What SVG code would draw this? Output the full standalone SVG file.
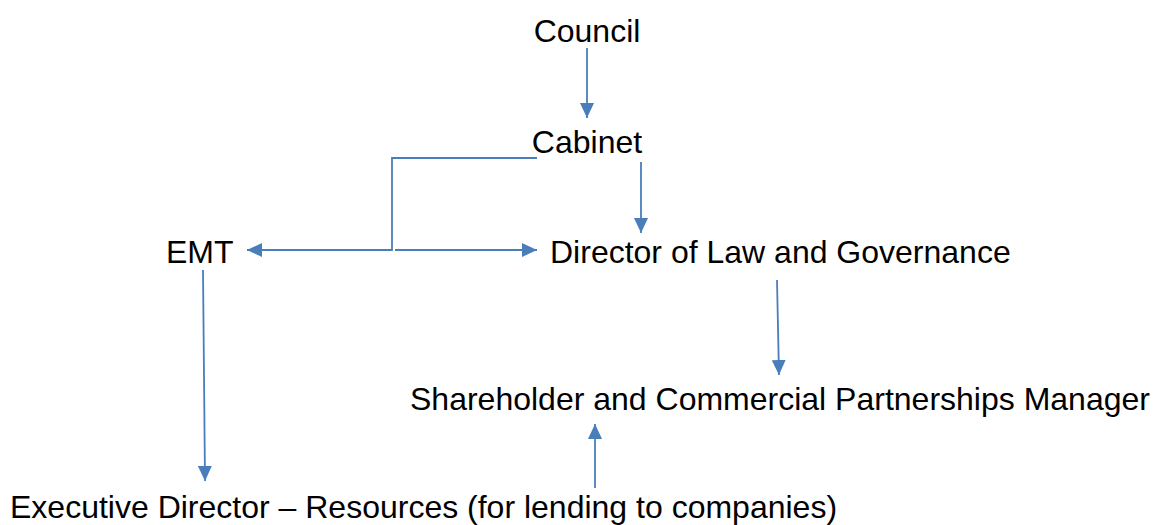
<svg xmlns="http://www.w3.org/2000/svg" width="1153" height="525" viewBox="0 0 1153 525">
<style>
.t{font-family:"Liberation Sans",Arial,sans-serif;font-size:32px;fill:#000}
.c{fill:none;stroke:#4a7ebb;stroke-width:1.8}
</style>
<defs>
<marker id="ah" markerUnits="userSpaceOnUse" markerWidth="16" markerHeight="14" refX="15" refY="7" orient="auto">
<path d="M0,0 L15,7 L0,14 Z" fill="#4a7ebb"/>
</marker>
</defs>
<rect width="1153" height="525" fill="#fff"/>
<g id="council"><text class="t" x="587" y="42" text-anchor="middle">Council</text></g>
<g id="cabinet"><text class="t" x="587" y="153" text-anchor="middle">Cabinet</text></g>
<g id="emt"><text class="t" x="166" y="263">EMT</text></g>
<g id="director"><text class="t" x="550" y="263">Director of Law and Governance</text></g>
<g id="shareholder"><text class="t" x="410" y="410">Shareholder and Commercial Partnerships Manager</text></g>
<g id="executive"><text class="t" x="10" y="518">Executive Director – Resources (for lending to companies)</text></g>
<g id="connectors">
<line class="c" x1="587" y1="48" x2="587" y2="118" marker-end="url(#ah)"/>
<polyline class="c" points="537,158 392,158 392,250 247,250" marker-end="url(#ah)"/>
<line class="c" x1="395" y1="250" x2="537" y2="250" marker-end="url(#ah)"/>
<line class="c" x1="641" y1="162" x2="641" y2="233" marker-end="url(#ah)"/>
<line class="c" x1="203" y1="270" x2="205" y2="481" marker-end="url(#ah)"/>
<line class="c" x1="777" y1="280" x2="779" y2="375" marker-end="url(#ah)"/>
<line class="c" x1="595" y1="488" x2="595" y2="424" marker-end="url(#ah)"/>
</g>
</svg>
